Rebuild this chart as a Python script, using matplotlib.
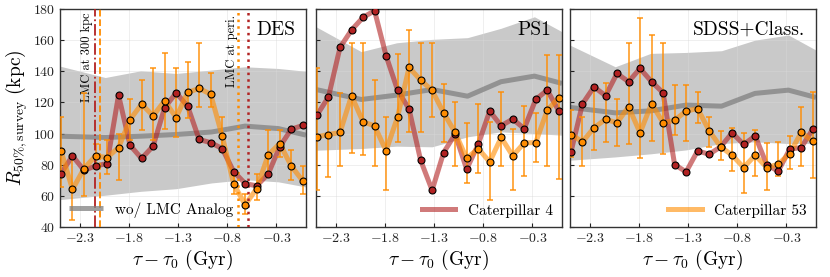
import numpy as np
import matplotlib
matplotlib.use("Agg")
import matplotlib.pyplot as plt

plt.rcParams["font.family"] = "serif"
plt.rcParams["font.serif"] = ["cmr10"]
plt.rcParams["mathtext.fontset"] = "cm"
plt.rcParams["axes.formatter.use_mathtext"] = True
plt.rcParams["axes.unicode_minus"] = True

# time of each snapshot (Gyr)
t = [-2.49, -2.373, -2.256, -2.139, -2.022, -1.905, -1.788, -1.671, -1.554, -1.437, -1.32,
     -1.203, -1.086, -0.969, -0.852, -0.735, -0.618, -0.501, -0.384, -0.267, -0.15, -0.033]

# time grid of the "wo/ LMC Analog" band
t_band = [-2.5, -2.04, -1.68, -1.32, -0.96, -0.62, -0.28, 0.0]

surveys = ["DES", "PS1", "SDSS+Class."]

band_med = {
    "DES": [98.3, 97.5, 98.3, 99.4, 101.0, 104.8, 103.2, 99.0],
    "PS1": [128.3, 121.9, 124.7, 128.3, 124.0, 133.3, 136.9, 132.2],
    "SDSS+Class.": [116.8, 113.3, 114.6, 118.3, 117.6, 125.8, 127.9, 123.2],
}
band_lo = {
    "DES": [57.6, 60.4, 62.9, 64.6, 68.3, 70.4, 69.0, 65.7],
    "PS1": [89.3, 90.4, 91.9, 91.5, 97.9, 101.1, 100.0, 99.0],
    "SDSS+Class.": [82.9, 85.0, 87.0, 89.5, 93.6, 94.7, 93.6, 93.6],
}
band_hi = {
    "DES": [143.3, 136.0, 140.3, 138.6, 140.8, 142.9, 141.8, 140.0],
    "PS1": [168.6, 152.6, 158.3, 160.5, 161.6, 167.6, 175.0, 165.4],
    "SDSS+Class.": [156.8, 142.9, 151.5, 152.1, 153.2, 160.0, 163.3, 153.6],
}

# Caterpillar 4
cat4 = {
    "DES": [74.3, 85.7, 76.4, 79.2, 80.7, 124.7, 92.5, 84.0, 91.9, 116.5, 126.2,
            117.6, 96.2, 94.2, 90.4, 75.6, 67.9, 66.4, 74.1, 91.5, 102.8, 105.2],
    "PS1": [111.8, 123.6, 155.3, 166.5, 174.6, 178.9, 150.0, 127.9, 115.7, 82.9, 63.6,
            87.8, 99.6, 77.1, 93.0, 114.4, 105.0, 109.3, 103.2, 121.9, 127.9, 114.6],
    "SDSS+Class.": [88.2, 119.1, 130.0, 124.3, 138.6, 133.3, 141.8, 133.3, 126.2, 80.1, 75.4,
                    88.9, 86.7, 91.5, 100.5, 93.0, 98.5, 80.1, 75.8, 90.0, 91.0, 102.8],
}

# Caterpillar 53 with its range
cat53 = {
    "DES": [88.9, 64.2, 77.5, 85.7, 84.6, 91.0, 109.0, 118.9, 111.4, 121.0, 110.3,
            126.4, 129.0, 125.3, 98.5, 67.7, 54.2, 64.7, 86.3, 93.6, 79.2, 69.6],
    "PS1": [97.9, 99.4, 100.7, 124.3, 107.5, 105.0, 88.9, 110.7, 142.5, 134.3, 127.7,
            113.3, 100.7, 84.0, 90.4, 81.8, 97.5, 85.7, 94.0, 94.2, 115.0, 123.0],
    "SDSS+Class.": [99.4, 94.7, 103.7, 109.2, 106.9, 117.2, 100.5, 119.3, 106.9, 108.6, 114.4,
                    116.1, 101.8, 91.5, 86.1, 78.2, 86.1, 78.2, 80.3, 87.2, 100.7, 95.1],
}
cat53_lo = {
    "DES": [66.0, 44.3, 59.7, 78.0, 74.3, 70.0, 95.7, 102.2, 95.7, 103.2, 97.9,
            109.7, 117.2, 116.8, 88.2, 61.4, 48.6, 57.1, 74.3, 85.0, 70.0, 61.4],
    "PS1": [63.6, 72.2, 79.2, 87.8, 86.5, 79.2, 63.6, 94.7, 100.7, 100.7, 110.7,
            94.7, 79.2, 68.3, 74.9, 57.1, 79.2, 63.6, 72.8, 81.8, 79.2, 71.1],
    "SDSS+Class.": [85.0, 79.2, 89.7, 94.7, 92.1, 93.6, 84.0, 95.1, 87.2, 99.0, 95.3,
                    106.5, 91.5, 83.3, 75.8, 61.9, 72.6, 63.6, 72.6, 77.5, 79.2, 71.5],
}
cat53_hi = {
    "DES": [110.8, 84.0, 126.2, 93.0, 95.7, 100.0, 122.5, 134.3, 141.8, 151.5, 141.8,
            146.1, 157.9, 139.1, 110.8, 73.2, 61.4, 74.3, 102.2, 102.2, 89.3, 79.2],
    "PS1": [141.8, 123.6, 126.2, 157.9, 157.9, 134.3, 110.7, 151.1, 166.5, 157.9, 157.9,
            131.8, 120.4, 106.9, 118.7, 107.5, 126.4, 103.2, 117.8, 112.9, 150.4, 150.4],
    "SDSS+Class.": [115.0, 110.7, 129.0, 132.6, 121.9, 157.9, 174.0, 163.3, 157.9, 131.1, 131.1,
                    126.4, 110.7, 101.5, 103.7, 100.5, 102.2, 94.0, 94.7, 98.3, 116.8, 126.8],
}

# LMC event times in the DES panel
lmc300_cat4, lmc300_cat53 = -2.144, -2.097
lmcperi_cat4, lmcperi_cat53 = -0.585, -0.694

red = "#b22222"
orange = "darkorange"

fig = plt.figure(figsize=(8.3, 2.77), dpi=100)
lefts = [60, 316, 570]
axes = []
for i, s in enumerate(surveys):
    ax = fig.add_axes([lefts[i] / 830, 50 / 277, 246 / 830, 218 / 277])
    axes.append(ax)

    ax.fill_between(t_band, band_lo[s], band_hi[s], color="#c9c9c9", lw=0, zorder=1)
    ax.plot(t_band, band_med[s], color="grey", alpha=0.75, lw=3.6, zorder=2,
            label="wo/ LMC Analog", solid_capstyle="butt")

    ax.plot(t, cat4[s], color=red, alpha=0.6, lw=3.6, zorder=3, label="Caterpillar 4")
    ax.plot(t, cat53[s], color=orange, alpha=0.6, lw=3.6, zorder=3, label="Caterpillar 53")

    yv = np.array(cat53[s])
    yerr = [yv - np.array(cat53_lo[s]), np.array(cat53_hi[s]) - yv]
    ax.errorbar(t, yv, yerr=yerr, fmt="none", ecolor=orange, elinewidth=1.2,
                capsize=2.2, capthick=1.2, alpha=0.85, zorder=4)
    ax.plot(t, cat4[s], "o", color=red, mec="black", mew=0.8, ms=5, zorder=5)
    ax.plot(t, cat53[s], "o", color=orange, mec="black", mew=0.8, ms=5, zorder=6)

    ax.set_xlim(-2.5, 0.0)
    ax.set_ylim(40, 180)
    ax.set_xticks([-2.3, -1.8, -1.3, -0.8, -0.3])
    ax.set_yticks(np.arange(40, 181, 20))
    ax.grid(True, color="0.85", lw=0.5, alpha=0.6, zorder=0)
    ax.tick_params(direction="in", length=3, labelsize=10, colors="#222222")
    for sp in ax.spines.values():
        sp.set_color("#333333")
        sp.set_linewidth(1.0)
    ax.set_xlabel(r"$\tau - \tau_0\ (\mathrm{Gyr})$", fontsize=14, labelpad=2)
    ax.text(0.955, 0.945, s, transform=ax.transAxes, ha="right", va="top", fontsize=14)
    if i > 0:
        ax.tick_params(labelleft=False)

axes[0].set_ylabel(r"$R_{50\%,\mathrm{survey}}\ (\mathrm{kpc})$", fontsize=14, labelpad=2)

# LMC markers in the DES panel
ax = axes[0]
ax.axvline(lmc300_cat4, color=red, ls="-.", lw=1.3, zorder=4)
ax.axvline(lmc300_cat53, color=orange, ls="--", lw=1.3, zorder=4)
ax.axvline(lmcperi_cat53, color=orange, ls=":", lw=1.8, zorder=4)
ax.axvline(lmcperi_cat4, color=red, ls=":", lw=1.8, zorder=4)
ax.text(-2.225, 120, "LMC at 300 kpc", rotation=90, ha="center", va="bottom", fontsize=9)
ax.text(-0.757, 130, "LMC at peri.", rotation=90, ha="center", va="bottom", fontsize=9)

leg_kw = dict(frameon=False, fontsize=11, handlelength=2.2, handletextpad=0.8,
              borderaxespad=0.2)
h, l = axes[0].get_legend_handles_labels()
axes[0].legend([h[0]], [l[0]], loc="lower left", **leg_kw)
h, l = axes[1].get_legend_handles_labels()
axes[1].legend([h[1]], [l[1]], loc="lower right", **leg_kw)
h, l = axes[2].get_legend_handles_labels()
axes[2].legend([h[2]], [l[2]], loc="lower right", **leg_kw)

fig.savefig("out.png", dpi=100)
